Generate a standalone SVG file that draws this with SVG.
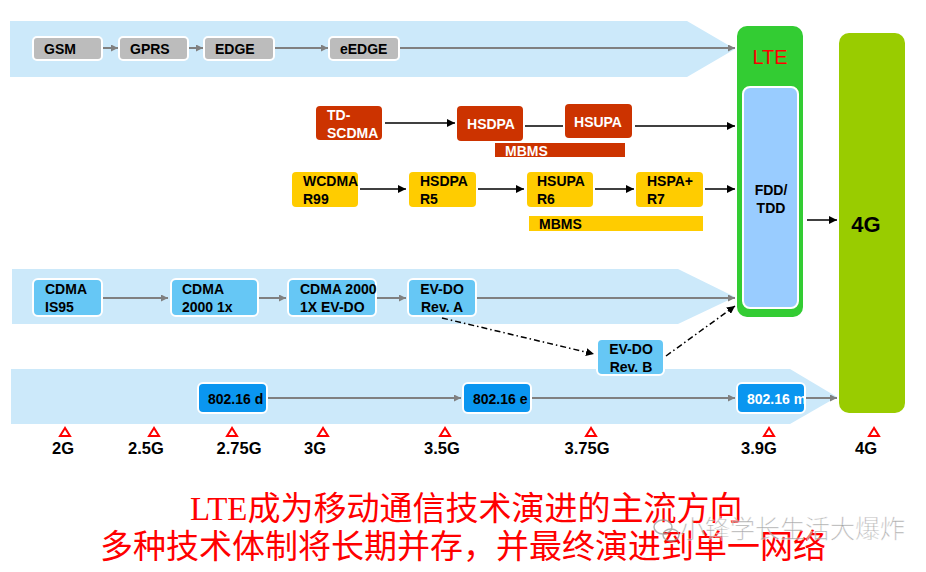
<svg xmlns="http://www.w3.org/2000/svg" width="926" height="572" viewBox="0 0 926 572">
<defs>
<marker id="ag" viewBox="0 0 10 10" refX="10" refY="5" markerWidth="7" markerHeight="7" markerUnits="userSpaceOnUse" orient="auto"><path d="M0,0 L10,5 L0,10 z" fill="#808080"/></marker>
<marker id="ab" viewBox="0 0 10 10" refX="10" refY="5" markerWidth="8" markerHeight="8" markerUnits="userSpaceOnUse" orient="auto"><path d="M0,0 L10,5 L0,10 z" fill="#000"/></marker>
<style>
.band{fill:#cce9fa}
.t{font-family:"Liberation Sans",Arial,sans-serif;font-weight:bold;font-size:14px}
.gray{fill:#bcbcbc;stroke:#fff;stroke-width:2}
.red{fill:#cc3300}
.yel{fill:#ffcc00}
.cdma{fill:#66c7f5;stroke:#fff;stroke-width:2}
.wm{fill:#0a96f0;stroke:#fff;stroke-width:2}
.cg{stroke:#808080;stroke-width:2;fill:none;marker-end:url(#ag)}
.cb{stroke:#000;stroke-width:1.5;fill:none;marker-end:url(#ab)}
.dd{stroke:#000;stroke-width:1.5;fill:none;stroke-dasharray:6 3 1.5 3;marker-end:url(#ab)}
.tri{fill:#fff;stroke:#ff0000;stroke-width:2}
.gl{font-family:"Liberation Sans",Arial,sans-serif;font-weight:bold;font-size:16.5px;text-anchor:middle}
.cn{font-family:"Liberation Serif","Noto Sans CJK SC",serif;font-size:33px;fill:#ff0000}
</style>
</defs>
<!-- bands -->
<g id="bands">
<polygon class="band" points="10,21 687,21 735,49 687,77 10,77"/>
<polygon class="band" points="12,269 678,269 735,297 678,324 12,324"/>
<polygon class="band" points="11,369 790,369 837,397 790,424 11,424"/>
</g>
<!-- big boxes -->
<g id="lte">
<rect x="737" y="26" width="66" height="291" rx="10" fill="#33cc33"/>
<text x="770" y="64" font-family="Liberation Sans,Arial,sans-serif" font-size="20" fill="#ff0000" text-anchor="middle">LTE</text>
</g>
<g id="fdd">
<rect x="743" y="87" width="55" height="221" rx="7" fill="#99ccff" stroke="#fff" stroke-width="2"/>
<text class="t" x="771" y="195" text-anchor="middle">FDD/</text>
<text class="t" x="771" y="213" text-anchor="middle">TDD</text>
</g>
<g id="g4">
<rect x="839" y="33" width="66" height="380" rx="10" fill="#99cc00"/>
<text x="866" y="232" font-family="Liberation Sans,Arial,sans-serif" font-weight="bold" font-size="22" text-anchor="middle">4G</text>
</g>
<!-- connectors -->
<g id="connectors">
<line class="cg" x1="103" y1="48" x2="118" y2="48"/>
<line class="cg" x1="189" y1="48" x2="203" y2="48"/>
<line class="cg" x1="275" y1="48" x2="328" y2="48"/>
<line class="cg" x1="400" y1="48" x2="735" y2="48"/>
<line class="cb" x1="385" y1="123" x2="455" y2="123"/>
<line stroke="#000" stroke-width="1.5" x1="525" y1="126" x2="563" y2="126"/>
<line class="cb" x1="635" y1="126" x2="735" y2="126"/>
<line class="cb" x1="360" y1="189" x2="406" y2="189"/>
<line class="cb" x1="478" y1="189" x2="524" y2="189"/>
<line class="cb" x1="595" y1="189" x2="634" y2="189"/>
<line class="cb" x1="705" y1="189" x2="735" y2="189"/>
<line class="cb" x1="807" y1="220" x2="837" y2="220"/>
<line class="cg" x1="103" y1="298" x2="168" y2="298"/>
<line class="cg" x1="259" y1="298" x2="286" y2="298"/>
<line class="cg" x1="377" y1="298" x2="406" y2="298"/>
<line class="cg" x1="477" y1="298" x2="735" y2="298"/>
<line class="dd" x1="442" y1="318" x2="594" y2="354"/>
<line class="dd" x1="666" y1="356" x2="735" y2="306"/>
<line class="cg" x1="268" y1="398" x2="461" y2="398"/>
<line class="cg" x1="532" y1="398" x2="735" y2="398"/>
<line class="cg" x1="806" y1="398" x2="837" y2="398"/>
</g>
<!-- GSM row -->
<g id="gsm"><rect class="gray" x="33" y="37" width="69" height="23" rx="4"/><text class="t" x="44" y="54">GSM</text></g>
<g id="gprs"><rect class="gray" x="119" y="37" width="69" height="23" rx="4"/><text class="t" x="130" y="54">GPRS</text></g>
<g id="edge"><rect class="gray" x="204" y="37" width="70" height="23" rx="4"/><text class="t" x="215" y="54">EDGE</text></g>
<g id="eedge"><rect class="gray" x="329" y="37" width="70" height="23" rx="4"/><text class="t" x="340" y="54">eEDGE</text></g>
<!-- TD-SCDMA row -->
<g id="tdscdma"><rect class="red" x="316" y="106" width="66" height="34" rx="4"/><text class="t" x="327" y="120" fill="#fff">TD-</text><text class="t" x="327" y="138" fill="#fff">SCDMA</text></g>
<g id="hsdpa1"><rect class="red" x="457" y="106" width="66" height="35" rx="4"/><text class="t" x="491" y="129" fill="#fff" text-anchor="middle">HSDPA</text></g>
<g id="hsupa1"><rect class="red" x="565" y="104" width="67" height="34" rx="4"/><text class="t" x="598" y="127" fill="#fff" text-anchor="middle">HSUPA</text></g>
<g id="mbms1"><rect class="red" x="495" y="143" width="130" height="14"/><text class="t" x="505" y="156" fill="#fff">MBMS</text></g>
<!-- WCDMA row -->
<g id="wcdma"><rect class="yel" x="292" y="172" width="66" height="35" rx="4"/><text class="t" x="303" y="186">WCDMA</text><text class="t" x="303" y="204">R99</text></g>
<g id="hsdpa2"><rect class="yel" x="409" y="172" width="67" height="35" rx="4"/><text class="t" x="420" y="186">HSDPA</text><text class="t" x="420" y="204">R5</text></g>
<g id="hsupa2"><rect class="yel" x="527" y="172" width="66" height="35" rx="4"/><text class="t" x="537" y="186">HSUPA</text><text class="t" x="537" y="204">R6</text></g>
<g id="hspap"><rect class="yel" x="636" y="172" width="67" height="35" rx="4"/><text class="t" x="647" y="186">HSPA+</text><text class="t" x="647" y="204">R7</text></g>
<g id="mbms2"><rect class="yel" x="529" y="216" width="174" height="15"/><text class="t" x="539" y="229">MBMS</text></g>
<!-- CDMA row -->
<g id="is95"><rect class="cdma" x="33" y="279" width="69" height="37" rx="5"/><text class="t" x="45" y="294">CDMA</text><text class="t" x="45" y="312">IS95</text></g>
<g id="c2000"><rect class="cdma" x="171" y="279" width="87" height="37" rx="5"/><text class="t" x="182" y="294">CDMA</text><text class="t" x="182" y="312">2000 1x</text></g>
<g id="evdo"><rect class="cdma" x="288" y="279" width="88" height="37" rx="5"/><text class="t" x="300" y="294">CDMA 2000</text><text class="t" x="300" y="312">1X EV-DO</text></g>
<g id="reva"><rect class="cdma" x="408" y="279" width="68" height="37" rx="5"/><text class="t" x="442" y="294" text-anchor="middle">EV-DO</text><text class="t" x="442" y="312" text-anchor="middle">Rev. A</text></g>
<g id="revb"><rect class="cdma" x="597" y="339" width="67" height="36" rx="5"/><text class="t" x="631" y="354" text-anchor="middle">EV-DO</text><text class="t" x="631" y="372" text-anchor="middle">Rev. B</text></g>
<!-- 802.16 row -->
<g id="w16d"><rect class="wm" x="198" y="383" width="69" height="30" rx="5"/><text class="t" x="208" y="404">802.16 d</text></g>
<g id="w16e"><rect class="wm" x="463" y="383" width="68" height="30" rx="5"/><text class="t" x="473" y="404">802.16 e</text></g>
<g id="w16m"><rect class="wm" x="737" y="383" width="68" height="30" rx="5"/><text class="t" x="747" y="404" fill="#fff">802.16 m</text></g>
<!-- timeline -->
<g id="timeline">
<polygon class="tri" points="65,428 60,436 70,436"/><text class="gl" x="63" y="454">2G</text>
<polygon class="tri" points="154,428 149,436 159,436"/><text class="gl" x="146" y="454">2.5G</text>
<polygon class="tri" points="232,428 227,436 237,436"/><text class="gl" x="239" y="454">2.75G</text>
<polygon class="tri" points="323,428 318,436 328,436"/><text class="gl" x="315" y="454">3G</text>
<polygon class="tri" points="445,428 440,436 450,436"/><text class="gl" x="442" y="454">3.5G</text>
<polygon class="tri" points="591,428 586,436 596,436"/><text class="gl" x="587" y="454">3.75G</text>
<polygon class="tri" points="769,428 764,436 774,436"/><text class="gl" x="759" y="454">3.9G</text>
<polygon class="tri" points="874,428 869,436 879,436"/><text class="gl" x="866" y="454">4G</text>
</g>
<!-- caption -->
<g id="caption">
<text class="cn" x="190" y="520">LTE成为移动通信技术演进的主流方向</text>
<text class="cn" x="100" y="558">多种技术体制将长期并存，并最终演进到单一网络</text>
</g>
<g id="watermark" opacity="0.75">
<ellipse cx="663" cy="527" rx="9" ry="7" fill="none" stroke="#999" stroke-width="1.5"/>
<ellipse cx="671" cy="535" rx="8" ry="6" fill="none" stroke="#999" stroke-width="1.5"/>
<text x="680" y="538" font-family="Noto Sans CJK SC,sans-serif" font-weight="300" font-size="25" fill="#888" stroke="#fff" stroke-width="0.4">小锋学长生活大爆炸</text>
</g>
</svg>
